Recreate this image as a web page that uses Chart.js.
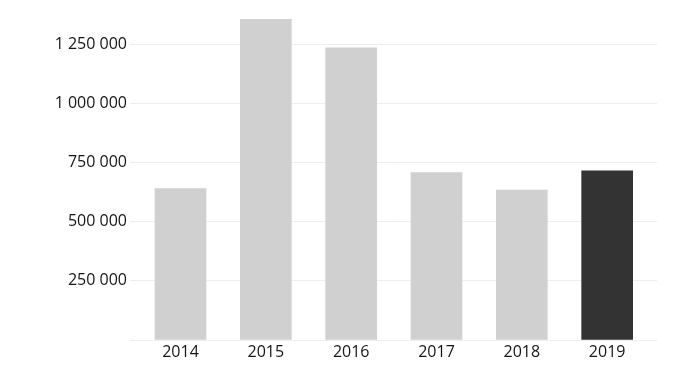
<!DOCTYPE html>
<html>
<head>
<meta charset="utf-8">
<script src="https://cdn.jsdelivr.net/npm/chart.js@4"></script>
<style>
  html, body { margin: 0; padding: 0; background: #fff; }
  #wrap { width: 700px; height: 368px; }
</style>
</head>
<body>
<div id="wrap"><canvas id="chart"></canvas></div>
<script>
// Data
const YEARS = ["2014", "2015", "2016", "2017", "2018", "2019"];
const VALUES = [640000, 1354000, 1234000, 707000, 633000, 714000];
const Y_TICKS = [0, 250000, 500000, 750000, 1000000, 1250000];

const BAR_COLOR = "#d0d0d0";
const HIGHLIGHT_COLOR = "#333333";
const GRID_COLOR = "#eeeeee";
const TEXT_COLOR = "#151515";

// Thousands separated by a space, like "1 250 000"
const formatNumber = (v) => String(v).replace(/\B(?=(\d{3})+(?!\d))/g, " ");

const barColors = YEARS.map((y, i) => (i === YEARS.length - 1 ? HIGHLIGHT_COLOR : BAR_COLOR));

new Chart(document.getElementById("chart"), {
  type: "bar",
  data: {
    datasets: [
      {
        data: VALUES.map((v, i) => ({ x: i, y: v })),
        backgroundColor: barColors,
        barThickness: 51,
        borderWidth: 0,
      },
    ],
  },
  options: {
    responsive: true,
    maintainAspectRatio: false,
    animation: false,
    layout: { padding: { left: 0, right: 43, top: 8.5, bottom: 0 } },
    plugins: {
      legend: { display: false },
      tooltip: { enabled: false },
    },
    scales: {
      x: {
        type: "linear",
        offset: false,
        min: -0.592,
        max: 5.584,
        grid: { display: false, drawTicks: false, offset: false },
        border: { display: false },
        afterBuildTicks: (axis) => {
          axis.ticks = YEARS.map((y, i) => ({ value: i }));
        },
        afterFit: (axis) => {
          axis.height = 28;
          axis.paddingLeft = 0;
          axis.paddingRight = 0;
        },
        ticks: {
          padding: 3,
          color: TEXT_COLOR,
          font: { family: "'Open Sans'", size: 16 },
          callback: (value) => YEARS[value],
        },
      },
      y: {
        min: 0,
        max: 1400000,
        grid: { color: GRID_COLOR, drawTicks: false },
        border: { display: false },
        afterBuildTicks: (axis) => {
          axis.ticks = Y_TICKS.map((v) => ({ value: v }));
        },
        afterFit: (axis) => {
          axis.width = 130;
          axis.paddingTop = 0;
          axis.paddingBottom = 0;
        },
        ticks: {
          padding: 3,
          color: TEXT_COLOR,
          font: { family: "'Open Sans'", size: 16 },
          callback: (value) => (value === 0 ? "" : formatNumber(value)),
        },
      },
    },
  },
});
</script>
</body>
</html>
